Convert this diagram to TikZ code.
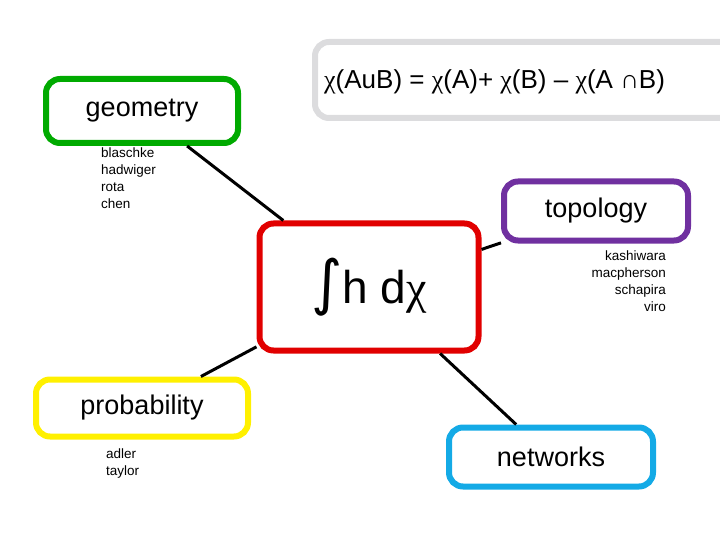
\documentclass[tikz,border=0pt]{standalone}
\usepackage{fontspec}
\setmainfont{Liberation Sans}
\newfontfamily\chifont{Liberation Serif}
\newfontfamily\intfont{DejaVu Sans}
\definecolor{cgreen}{RGB}{0,170,0}
\definecolor{cpurple}{RGB}{112,48,160}
\definecolor{cred}{RGB}{225,0,0}
\definecolor{cyellow}{RGB}{255,240,0}
\definecolor{cblue}{RGB}{20,170,230}
\definecolor{cgray}{RGB}{220,220,222}
\newcommand{\chx}{{\chifont χ}}
\begin{document}
\begin{tikzpicture}[x=1pt,y=-1pt,
  box/.style={draw,line width=6pt,rounded corners=14pt,inner sep=0pt,font=\fontsize{27}{30}\selectfont},
  small/.style={font=\fontsize{13.5}{17}\selectfont,inner sep=0pt},
  link/.style={line width=3pt}]
\useasboundingbox (0,0) rectangle (720,540);
\node[box,cgray,minimum width=420,minimum height=76,anchor=west] (f) at (312,80) {};
\node[anchor=west,inner sep=0pt] (ft) at (324,82) {\fontsize{26}{28}\selectfont\chx(AuB) = \chx(A)+ \chx(B) – \chx(A ∩B)};
\node[box,cgreen,text=black,minimum width=192,minimum height=64] (geo) at (142,111) {geometry};
\node[box,cpurple,text=black,minimum width=184,minimum height=59] (top) at (596,211) {topology};
\node[box,cred,text=black,minimum width=219,minimum height=127,font=\fontsize{46}{50}\selectfont] (ctr) at (369,287) {{\intfont\fontsize{60}{60}\selectfont ∫}h d\chx};
\node[box,cyellow,text=black,minimum width=212,minimum height=57] (prob) at (142,408) {probability};
\node[box,cblue,text=black,minimum width=204,minimum height=59] (net) at (551,457) {networks};
\draw[link] (geo) -- (ctr);
\draw[link] (top) -- (ctr);
\draw[link] (prob) -- (ctr);
\draw[link] (net) -- (ctr);
\node[small,anchor=north west,align=left] (g1) at (101,148) {blaschke\\hadwiger\\rota\\chen};
\node[small,anchor=north east,align=right] (t1) at (666,251) {kashiwara\\macpherson\\schapira\\viro};
\node[small,anchor=north west,align=left] (p1) at (106,449) {adler\\taylor};
\end{tikzpicture}
\end{document}
